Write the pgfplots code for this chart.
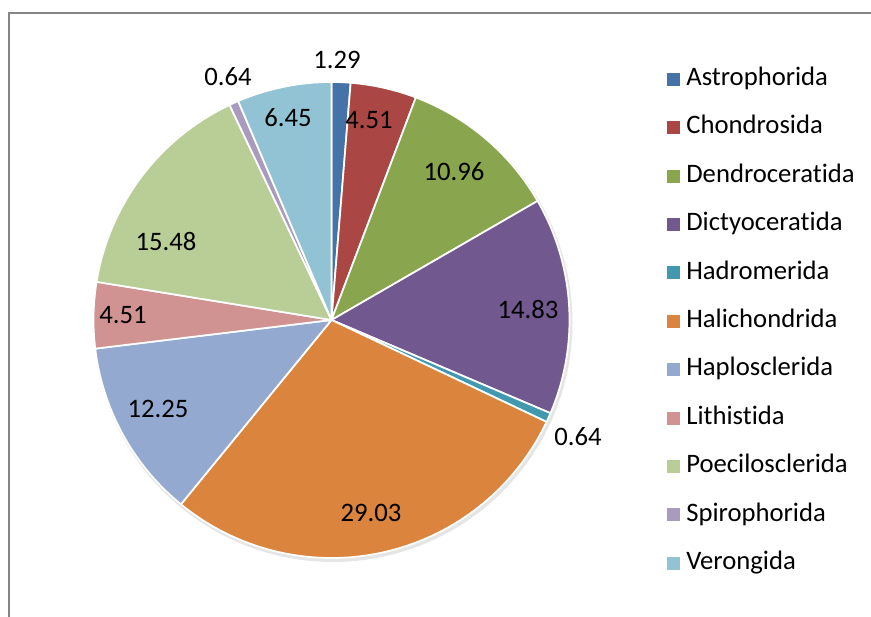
\documentclass[border=0pt]{standalone}
\usepackage{pgfplots}
\pgfplotsset{compat=1.18}
\usepackage{fontspec}
\setmainfont{Carlito}[Ligatures=NoCommon]
\definecolor{cA}{HTML}{4572A7}
\definecolor{cB}{HTML}{AA4643}
\definecolor{cC}{HTML}{89A54E}
\definecolor{cD}{HTML}{71588F}
\definecolor{cE}{HTML}{4198AF}
\definecolor{cF}{HTML}{DB843D}
\definecolor{cG}{HTML}{93A9CF}
\definecolor{cH}{HTML}{D19392}
\definecolor{cI}{HTML}{B9CD96}
\definecolor{cJ}{HTML}{A99BBD}
\definecolor{cK}{HTML}{92C3D5}
\definecolor{frame}{HTML}{868686}
\newcommand\lab{\fontsize{20}{23}\selectfont}
\def\cx{331.5}
\def\cy{297}
\def\r{238}
\def\cum{0}
\newcommand\slice[2]{%
  \pgfmathsetmacro\sa{90-\cum*\degper}%
  \pgfmathsetmacro\newcum{\cum+#1}%
  \global\let\cum\newcum
  \pgfmathsetmacro\sb{90-\cum*\degper}%
  \edef\tmp{\noexpand\addplot[fill=#2, draw=white, line width=1.3pt, line join=round, domain=\sb:\sa, samples=80] ({\cx+\r*cos(x)},{\cy+\r*sin(x)}) -- (\cx,\cy) -- cycle;}%
  \tmp
}
\begin{document}
\begin{tikzpicture}
\pgfmathsetmacro\total{1.29+4.51+10.96+14.83+0.64+29.03+12.25+4.51+15.48+0.64+6.45}
\pgfmathsetmacro\degper{360/\total}
\begin{axis}[
  x=0.75pt, y=0.75pt,
  xmin=0, xmax=871, ymin=0, ymax=617,
  hide axis, clip=false,
  legend image code/.code={\fill[#1, draw=none] (0pt,-4.9pt) rectangle (9.8pt,4.9pt);},
  legend cell align=left,
  legend style={draw=none, fill=none, at={(axis cs:667,551)}, anchor=north west,
    font=\lab, inner sep=0pt, row sep=16.8pt,
    nodes={inner sep=1pt, text height=13.5pt, text depth=4pt},
    /tikz/every odd column/.append style={column sep=3.5pt}},
]
\addplot[forget plot, fill=black, fill opacity=0.10, draw=none, domain=0:360, samples=150] ({\cx+1.5+(\r+1.5)*cos(x)},{\cy-2.5+(\r+1.5)*sin(x)});
\slice{1.29}{cA}\addlegendentry{Astrophorida}
\slice{4.51}{cB}\addlegendentry{Chondrosida}
\slice{10.96}{cC}\addlegendentry{Dendroceratida}
\slice{14.83}{cD}\addlegendentry{Dictyoceratida}
\slice{0.64}{cE}\addlegendentry{Hadromerida}
\slice{29.03}{cF}\addlegendentry{Halichondrida}
\slice{12.25}{cG}\addlegendentry{Haplosclerida}
\slice{4.51}{cH}\addlegendentry{Lithistida}
\slice{15.48}{cI}\addlegendentry{Poecilosclerida}
\slice{0.64}{cJ}\addlegendentry{Spirophorida}
\slice{6.45}{cK}\addlegendentry{Verongida}
\node[font=\lab] at (axis cs:337,557) {1.29};
\node[font=\lab] at (axis cs:369,497) {4.51};
\node[font=\lab] at (axis cs:454,445) {10.96};
\node[font=\lab] at (axis cs:528,307) {14.83};
\node[font=\lab] at (axis cs:578,180) {0.64};
\node[font=\lab] at (axis cs:371,104) {29.03};
\node[font=\lab] at (axis cs:158,208) {12.25};
\node[font=\lab] at (axis cs:123,302) {4.51};
\node[font=\lab] at (axis cs:166,375) {15.48};
\node[font=\lab] at (axis cs:228,540) {0.64};
\node[font=\lab] at (axis cs:288,499) {6.45};
\draw[frame, line width=1.5pt] (axis cs:871,604) -- (axis cs:8.5,604) -- (axis cs:8.5,0);
\end{axis}
\pgfresetboundingbox
\path (current axis.south west) rectangle (current axis.north east);
\end{tikzpicture}
\end{document}
